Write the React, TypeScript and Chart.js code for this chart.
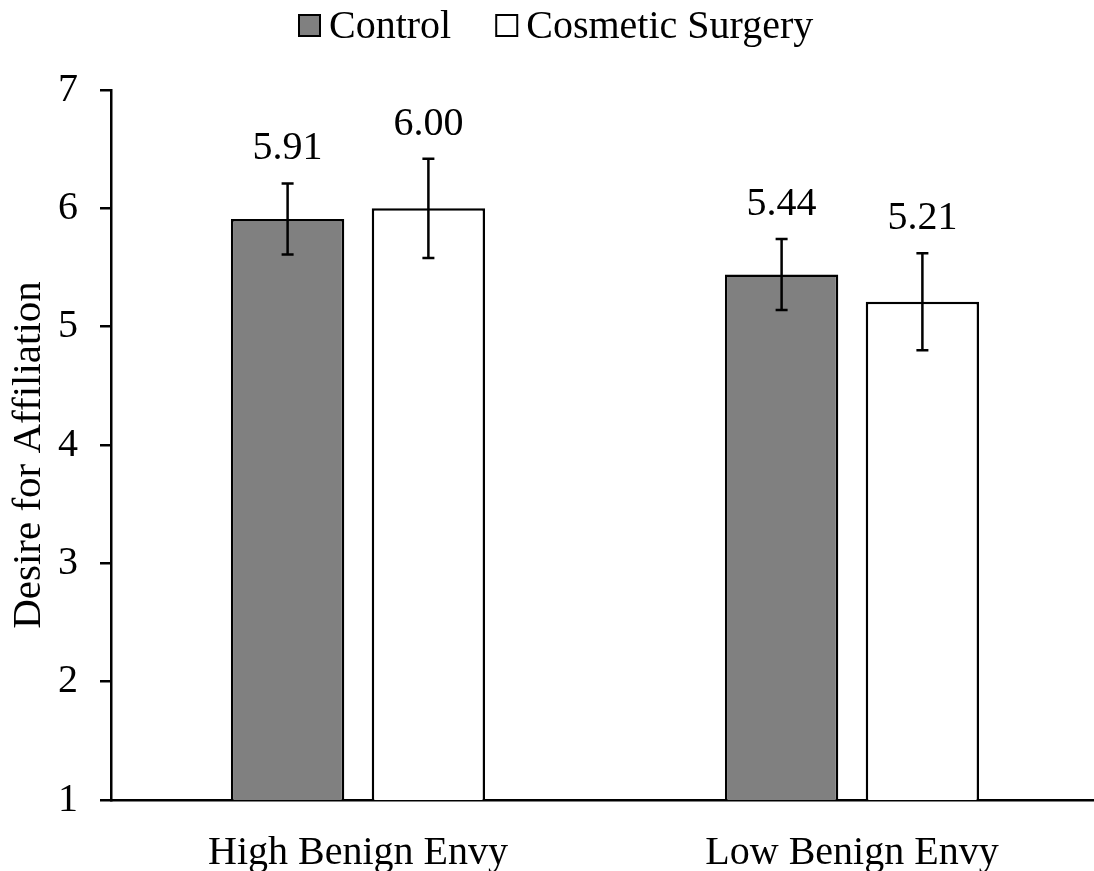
import React, { useEffect, useRef } from 'react';
import { Chart, registerables } from 'chart.js';

Chart.register(...registerables);

const categories = ['High Benign Envy', 'Low Benign Envy'];
const seriesNames = ['Control', 'Cosmetic Surgery'];
const controlValues = [5.91, 5.44];
const cosmeticValues = [6.0, 5.21];
const controlErrors = [0.3, 0.3];
const cosmeticErrors = [0.42, 0.41];
const yTickValues = [1, 2, 3, 4, 5, 6, 7];
const yTitle = 'Desire for Affiliation';

const FONT_FAMILY = '"Liberation Serif", "Times New Roman", serif';
const FONT_SIZE = 40;
const fillColors = ['#808080', '#ffffff'];
const errorsBySeries = [controlErrors, cosmeticErrors];

const errorBarPlugin = {
  id: 'errorBarsAndLabels',
  afterDatasetsDraw(chart: any) {
    const ctx = chart.ctx;
    const yScale = chart.scales.y;
    ctx.save();
    chart.data.datasets.forEach((ds: any, di: number) => {
      const meta = chart.getDatasetMeta(di);
      const errs = errorsBySeries[di];
      meta.data.forEach((bar: any, i: number) => {
        const v = ds.data[i] as number;
        const e = errs[i];
        const yTop = yScale.getPixelForValue(v + e);
        const yBot = yScale.getPixelForValue(v - e);
        const x = bar.x;
        ctx.strokeStyle = '#000';
        ctx.lineWidth = 2.5;
        ctx.beginPath();
        ctx.moveTo(x, yTop);
        ctx.lineTo(x, yBot);
        ctx.moveTo(x - 6, yTop);
        ctx.lineTo(x + 6, yTop);
        ctx.moveTo(x - 6, yBot);
        ctx.lineTo(x + 6, yBot);
        ctx.stroke();
        ctx.fillStyle = '#000';
        ctx.font = `${FONT_SIZE}px ${FONT_FAMILY}`;
        ctx.textAlign = 'center';
        ctx.textBaseline = 'alphabetic';
        ctx.fillText(v.toFixed(2), x, yTop - 24);
      });
    });
    ctx.restore();
  },
  afterDraw(chart: any) {
    const ctx = chart.ctx;
    ctx.save();
    // legend
    ctx.font = `${FONT_SIZE}px ${FONT_FAMILY}`;
    ctx.textBaseline = 'alphabetic';
    ctx.textAlign = 'left';
    let x = 299;
    const boxSize = 21;
    const boxTop = 15;
    const baseline = 38;
    chart.data.datasets.forEach((ds: any, di: number) => {
      ctx.fillStyle = fillColors[di];
      ctx.fillRect(x, boxTop, boxSize, boxSize);
      ctx.strokeStyle = '#000';
      ctx.lineWidth = 2;
      ctx.strokeRect(x, boxTop, boxSize, boxSize);
      x += boxSize + 9;
      ctx.fillStyle = '#000';
      ctx.fillText(ds.label, x, baseline);
      x += ctx.measureText(ds.label).width + 45;
    });
    // y axis title
    const area = chart.chartArea;
    ctx.translate(29, (area.top + area.bottom) / 2 + 10);
    ctx.rotate(-Math.PI / 2);
    ctx.font = `41px ${FONT_FAMILY}`;
    ctx.textAlign = 'center';
    ctx.textBaseline = 'middle';
    ctx.fillStyle = '#000';
    ctx.fillText(yTitle, 0, 0);
    ctx.restore();
  },
};

export default function App() {
  const canvasRef = useRef<HTMLCanvasElement | null>(null);

  useEffect(() => {
    const canvas = canvasRef.current;
    if (!canvas) return;
    const chart = new Chart(canvas, {
      type: 'bar',
      data: {
        labels: categories,
        datasets: [
          {
            label: seriesNames[0],
            data: controlValues,
            backgroundColor: fillColors[0],
            borderColor: '#000',
            borderWidth: 2.5,
            borderSkipped: false,
            categoryPercentage: 0.57,
            barPercentage: 0.805,
          },
          {
            label: seriesNames[1],
            data: cosmeticValues,
            backgroundColor: fillColors[1],
            borderColor: '#000',
            borderWidth: 2.5,
            borderSkipped: false,
            categoryPercentage: 0.57,
            barPercentage: 0.805,
          },
        ],
      },
      options: {
        responsive: false,
        animation: false,
        devicePixelRatio: 1,
        layout: { padding: { top: 90, right: 0, left: 0, bottom: 0 } },
        plugins: {
          legend: { display: false },
          tooltip: { enabled: false },
        },
        scales: {
          x: {
            grid: { display: false },
            border: { display: true, color: '#000', width: 2.5 },
            ticks: {
              color: '#000',
              padding: 21,
              font: { family: FONT_FAMILY, size: FONT_SIZE },
            },
            afterFit: (scale: any) => {
              scale.height = 71;
            },
          },
          y: {
            min: 1,
            max: 7,
            grid: {
              display: true,
              drawOnChartArea: false,
              drawTicks: true,
              tickLength: 11,
              color: '#000',
              lineWidth: 2.5,
            },
            border: { display: true, color: '#000', width: 2.5 },
            ticks: {
              color: '#000',
              padding: 22,
              font: { family: FONT_FAMILY, size: FONT_SIZE },
            },
            afterBuildTicks: (scale: any) => {
              scale.ticks = yTickValues.map((v) => ({ value: v }));
            },
            title: { display: false },
            afterFit: (scale: any) => {
              scale.width = 111;
            },
          },
        },
      },
      plugins: [errorBarPlugin],
    });
    return () => chart.destroy();
  }, []);

  return (
    <div
      style={{
        position: 'fixed',
        left: 0,
        top: 0,
        width: 1094,
        height: 871,
        overflow: 'hidden',
        background: '#fff',
      }}
    >
      <canvas ref={canvasRef} width={1099} height={871} style={{ display: 'block' }} />
    </div>
  );
}
